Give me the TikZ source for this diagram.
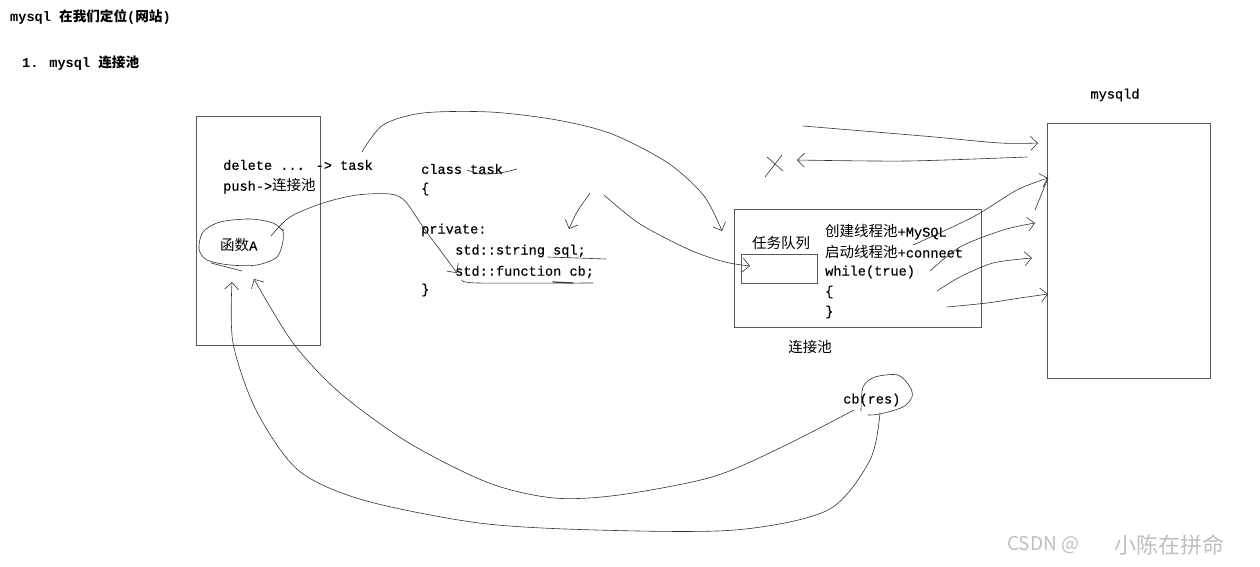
\documentclass[tikz,border=0pt]{standalone}
\usepackage{fontspec}
\usetikzlibrary{arrows.meta}
\newfontfamily\mono[UprightFeatures={FakeBold=0.35}]{Liberation Mono}
\newfontfamily\cjk{Noto Sans CJK SC}
\newcommand\zh[1]{{\cjk\fontsize{14.5}{16}\selectfont #1}}
\newcommand\zht[1]{{\cjk\bfseries\fontsize{13.6}{16}\selectfont #1}}
\begin{document}
\begin{tikzpicture}[x=1pt,y=-1pt,
  code/.style={font=\mono\fontsize{13.6}{16}\selectfont, anchor=west, inner sep=0pt, text=black},
  box/.style={draw=black!65, line width=0.8pt, inner sep=0pt, outer sep=0pt},
  hand/.style={draw=black!80, line width=0.6pt, line cap=round, line join=round},
  arr/.style={hand, -{Straight Barb[length=7pt,width=14pt]}}]
\useasboundingbox[fill=white] (0,0) rectangle (1260,567);

% titles
\node[code, text=black] (title) at (10,17) {\bfseries mysql \zht{在我们定位}(\zht{网站})};
\node[code, text=black] (sub) at (22,63) {\bfseries 1. mysql \zht{连接池}};

% left box
\node[box, anchor=north west, minimum width=124pt, minimum height=229pt] (L) at (196,116) {};
\node[code] (del) at (223,165) {delete ... -> task};
\node[code] (push) at (223,186) {push->\zh{连接池}};
\node[code] (fa) at (220,245) {\zh{函数}A};

% class task
\node[code] (c1) at (421,169) {class task};
\node[code] (c2) at (421,189) {\{};
\node[code] (c3) at (421,230) {private:};
\node[code] (c4) at (455,251) {std::string sql;};
\node[code] (c5) at (455,272) {std::function cb;};
\node[code] (c6) at (421,290) {\}};

% pool
\node[box, anchor=north west, minimum width=247pt, minimum height=118pt] (pool) at (734,209) {};
\node[box, anchor=north west, minimum width=76pt, minimum height=29pt] (queue) at (741,254) {};
\node[code, anchor=center] (ql) at (781,243) {\zh{任务队列}};
\node[code] (p1) at (825,232) {\zh{创建线程池}+MySQL};
\node[code] (p2) at (825,252) {\zh{启动线程池}+conneet};
\node[code] (p3) at (825,272) {while(true)};
\node[code] (p4) at (825,292) {\{};
\node[code] (p5) at (825,312) {\}};
\node[code, anchor=center] (pl) at (810,347) {\zh{连接池}};

% mysqld
\node[box, anchor=north west, minimum width=163pt, minimum height=255pt] (db) at (1047,123) {};
\node[code, anchor=center] (dbl) at (1115,95) {mysqld};

% cb(res)
\node[code] (cb) at (843,400) {cb(res)};

% watermark
\node[anchor=west, inner sep=0pt, text=black!25, font=\cjk\fontsize{19}{20}\selectfont] (wm1) at (1007,545) {CSDN @};
\node[anchor=west, inner sep=0pt, text=black!25, font=\cjk\fontsize{22}{24}\selectfont] (wm2) at (1114,545) {小陈在拼命};

% coordinates
\coordinate (taskS) at (362,152);
\coordinate (poolT) at (722,231);
\coordinate (faS) at (271,236);
\coordinate (cbT) at (457,273);
\coordinate (clsA) at (590,193);
\coordinate (clsT) at (569,229);
\coordinate (clsB) at (604,195);
\coordinate (qT) at (750,266);
\coordinate (cbO) at (880,413);
\coordinate (cbI) at (854,410);
\coordinate (faO) at (232,282);
\coordinate (faI) at (254,279);

% hand loops
\draw[hand] plot[smooth] coordinates {(283,231) (273,223) (250,219) (220,222) (203,232) (199,249) (207,260) (230,265) (257,265) (277,257) (283,241) (283,229)};
\draw[hand] (211,263) -- (242,271);
\draw[hand] plot[smooth] coordinates {(861,411) (863,387) (875,377) (898,375) (910,387) (912,397) (903,407) (880,414) (868,415)};

% underlines
\draw[hand] plot[smooth] coordinates {(467,170) (481,174) (500,173) (517,169)};
\draw[hand] (548,257) -- (606,259);
\draw[hand] plot[smooth] coordinates {(462,280) (478,283) (593,283)};
\draw[hand, line width=1.2pt] (553,282) -- (573,283);

% connectors
\draw[arr] plot[smooth] coordinates {(taskS) (383,125) (423,113) (490,112) (557,120) (612,134) (668,163) (704,196) (poolT)};
\draw[arr] plot[smooth] coordinates {(faS) (290,217) (323,203) (357,195) (390,194) (405,201) (423,227) (440,250) (cbT)};
\draw[arr] plot[smooth] coordinates {(clsA) (577,212) (clsT)};
\draw[arr] plot[smooth] coordinates {(clsB) (640,224) (690,250) (725,262) (qT)};

\draw[arr] plot[smooth] coordinates {(cbO) (870,460) (828,510) (735,530) (596,530) (479,523) (363,500) (298,470) (256,410) (233,343) (faO)};
\draw[arr] plot[smooth] coordinates {(cbI) (782,447) (712,477) (619,495) (554,498) (489,483) (409,443) (340,393) (293,343) (faI)};

% to / from mysqld
\coordinate (m1s) at (803,126); \coordinate (m1t) at (1038,143);
\coordinate (m2s) at (1027,157); \coordinate (m2t) at (797,160);
\coordinate (m3s) at (913,245); \coordinate (m3t) at (1048,178);
\coordinate (m4s) at (930,271); \coordinate (m4t) at (1035,223);
\coordinate (m5s) at (937,291); \coordinate (m5t) at (1032,258);
\coordinate (m6s) at (947,307); \coordinate (m6t) at (1048,294);
\draw[arr] plot[smooth] coordinates {(m1s) (923,136) (1000,143) (m1t)};
\draw[arr] plot[smooth] coordinates {(m2s) (907,161) (m2t)};
\draw[hand] (767,157) -- (783,171) (782,155) -- (765,177);
\draw[arr] plot[smooth] coordinates {(m3s) (973,217) (1017,190) (m3t)};
\draw[hand] (1048,178) -- (1035,210);
\draw[arr] plot[smooth] coordinates {(m4s) (960,247) (1003,230) (m4t)};
\draw[arr] plot[smooth] coordinates {(m5s) (960,277) (993,263) (m5t)};
\draw[arr] plot[smooth] coordinates {(m6s) (987,303) (1020,298) (m6t)};
\end{tikzpicture}
\end{document}
